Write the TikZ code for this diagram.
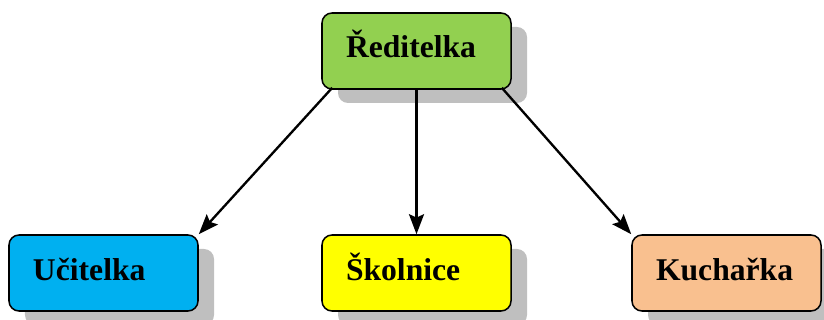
\documentclass[tikz,border=0pt]{standalone}
\usepackage{fontspec}
\setmainfont{Liberation Serif}
\usepackage{tikz}
\usetikzlibrary{shadows,arrows.meta}

\definecolor{reditel}{HTML}{92D050}
\definecolor{ucitel}{HTML}{00B0F0}
\definecolor{skolnik}{HTML}{FFFF00}
\definecolor{kuchar}{HTML}{F9C08F}

\tikzset{
  osoba/.style={draw=black, line width=1.3pt, rounded corners=0.3cm,
    minimum height=2.28cm, text width=4.23cm, inner xsep=0.72cm,
    text height=0.81cm, text depth=0.39cm,
    align=left, font=\fontsize{27}{30}\selectfont\bfseries,
    drop shadow={shadow xshift=0.48cm, shadow yshift=-0.42cm,
      fill=black!25, opacity=1}},
  sipka/.style={line width=2pt, -{Stealth[length=0.6cm, width=0.45cm, inset=0.1cm]}}
}

\begin{document}
\begin{tikzpicture}[x=0.03cm,y=-0.03cm]
  \useasboundingbox (0,0) rectangle (824,320);
  \node[osoba, fill=reditel] (red) at (416.5,51) {Ředitelka};
  \node[osoba, fill=ucitel] (uc) at (103.5,273) {Učitelka};
  \node[osoba, fill=skolnik] (skol) at (416.5,273) {Školnice};
  \node[osoba, fill=kuchar] (kuch) at (726.5,273) {Kuchařka};

  \draw[sipka] ([xshift=0.33cm,yshift=0.06cm]red.south west) -- (uc.north east);
  \draw[sipka] (red.south) -- (skol.north);
  \draw[sipka] ([xshift=-0.3cm,yshift=0.06cm]red.south east) -- (kuch.north west);

\end{tikzpicture}
\end{document}
